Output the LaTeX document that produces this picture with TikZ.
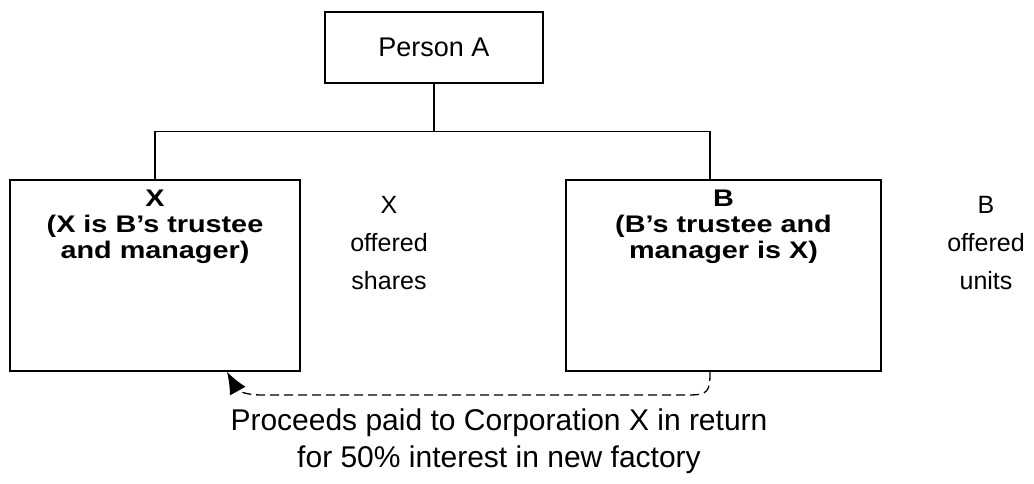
\documentclass[tikz,border=0pt]{standalone}
\usepackage{fontspec}
\setmainfont{Liberation Sans}
\newfontfamily\widesans[FakeStretch=1.2]{Liberation Sans}
\usetikzlibrary{positioning,arrows.meta}

\begin{document}
\begin{tikzpicture}[x=1pt, y=-1pt,
    entity/.style={draw, line width=1.6pt, inner sep=0pt},
    inbox/.style={font=\widesans\fontsize{24}{26}\selectfont\bfseries, align=center, inner sep=0pt},
    side/.style={font=\fontsize{25}{38}\selectfont, align=center, inner sep=0pt},
    link/.style={line width=1.3pt},
    flow/.style={line width=1.3pt, dash pattern=on 9pt off 5pt, -{Latex[length=22pt,width=18pt]}}]
    \useasboundingbox (0,0) rectangle (1034,483);

    % people and entities
    \node[entity, minimum width=218pt, minimum height=71pt,
          font=\fontsize{27}{32}\selectfont] (personA) at (434,47.5) {Person A};
    \node[entity, minimum width=290pt, minimum height=191pt] (X) at (155,275.5) {};
    \node[entity, minimum width=315pt, minimum height=191pt] (B) at (723.5,275.5) {};

    \node[inbox, below=11pt of X.north] (Xtext) {X\\(X is B’s trustee\\and manager)};
    \node[inbox, below=11pt of B.north] (Btext) {B\\(B’s trustee and\\manager is X)};

    \node[side] (Xside) at (389,243) {X\\offered\\shares};
    \node[side] (Bside) at (986,243) {B\\offered\\units};

    % ownership lines
    \coordinate (split) at ([yshift=-48pt]personA.south);
    \coordinate (joinB) at ([xshift=-13.5pt]B.north);
    \draw[link] (personA.south) -- (split);
    \draw[link] (X.north) |- (split) -| (joinB);

    % payment
    \coordinate (fromB) at ([xshift=-13.5pt]B.south);
    \coordinate (toX) at ([xshift=72pt]X.south);
    \draw[flow] (fromB) .. controls +(0,20) and +(20,0) .. (688,395)
        -- (262,395) .. controls +(-18,0) and +(10,18) .. (toX);

    \node[font=\fontsize{30}{37}\selectfont, align=center, inner sep=0pt] (proceeds)
        at (499,441) {Proceeds paid to Corporation X in return\\for 50\% interest in new factory};
\end{tikzpicture}
\end{document}
